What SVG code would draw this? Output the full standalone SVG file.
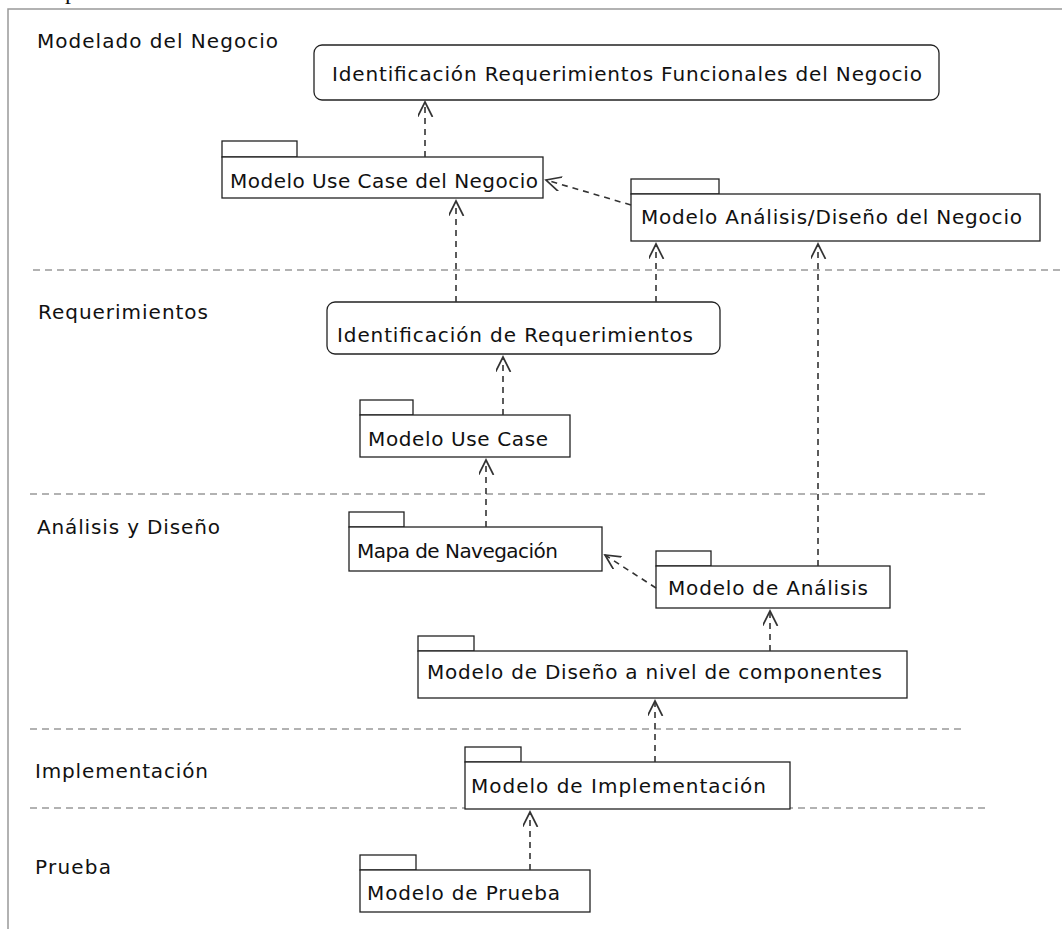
<svg xmlns="http://www.w3.org/2000/svg" width="1062" height="929" viewBox="0 0 1062 929">
<style>
  .frame{fill:none;stroke:#999;stroke-width:1.5}
  .sep{fill:none;stroke:#999;stroke-width:1.5;stroke-dasharray:7 5}
  .box{fill:#fff;stroke:#222;stroke-width:1.3}
  .conn{fill:none;stroke:#333;stroke-width:1.6;stroke-dasharray:6 5;marker-end:url(#arr)}
  .t{font-family:"DejaVu Sans","Liberation Sans",Arial,sans-serif;font-size:20px;fill:#111}
  .lane{font-family:"DejaVu Sans","Liberation Sans",Arial,sans-serif;font-size:20px;fill:#111}
</style>
<defs>
  <marker id="arr" markerUnits="userSpaceOnUse" markerWidth="20" markerHeight="20" refX="15" refY="7.5" orient="auto">
    <path d="M0,0 L15,7.5 L0,15" fill="none" stroke="#333" stroke-width="1.7" stroke-dasharray="none"/>
  </marker>
</defs>
<rect width="1062" height="929" fill="#fff"/>
<text x="65" y="-1" style="font-family:'Liberation Serif',serif;font-size:24px;fill:#111">p</text>
<path class="frame" d="M8,929 L8,9 L1062,9"/>

<g id="separators">
  <line class="sep" x1="33" y1="270" x2="1062" y2="270"/>
  <line class="sep" x1="30" y1="494" x2="990" y2="494"/>
  <line class="sep" x1="30" y1="729" x2="963" y2="729"/>
  <line class="sep" x1="30" y1="808" x2="988" y2="808"/>
</g>

<g id="lanes">
  <text class="lane" x="37" y="48" textLength="241" lengthAdjust="spacing">Modelado del Negocio</text>
  <text class="lane" x="38" y="319" textLength="170" lengthAdjust="spacing">Requerimientos</text>
  <text class="lane" x="37" y="534" textLength="183" lengthAdjust="spacing">Análisis y Diseño</text>
  <text class="lane" x="35" y="778" textLength="173" lengthAdjust="spacing">Implementación</text>
  <text class="lane" x="35" y="874" textLength="76" lengthAdjust="spacing">Prueba</text>
</g>

<g id="n1">
  <rect class="box" x="314" y="45" width="625" height="55" rx="8"/>
  <text class="t" x="332" y="81" textLength="590" lengthAdjust="spacing">Identificación Requerimientos Funcionales del Negocio</text>
</g>
<g id="n2">
  <rect class="box" x="222" y="141" width="75" height="16"/>
  <rect class="box" x="222" y="157" width="321" height="41"/>
  <text class="t" x="230" y="188" textLength="308" lengthAdjust="spacing">Modelo Use Case del Negocio</text>
</g>
<g id="n3">
  <rect class="box" x="631" y="179" width="88" height="15"/>
  <rect class="box" x="631" y="194" width="409" height="47"/>
  <text class="t" x="641" y="224" textLength="381" lengthAdjust="spacing">Modelo Análisis/Diseño del Negocio</text>
</g>
<g id="n4">
  <rect class="box" x="327" y="302" width="393" height="52" rx="8"/>
  <text class="t" x="337" y="342" textLength="356" lengthAdjust="spacing">Identificación de Requerimientos</text>
</g>
<g id="n5">
  <rect class="box" x="360" y="400" width="53" height="15"/>
  <rect class="box" x="360" y="415" width="210" height="42"/>
  <text class="t" x="368" y="446" textLength="180" lengthAdjust="spacing">Modelo Use Case</text>
</g>
<g id="n6">
  <rect class="box" x="349" y="512" width="55" height="15"/>
  <rect class="box" x="349" y="527" width="253" height="44"/>
  <text class="t" x="357" y="558" textLength="201" lengthAdjust="spacing">Mapa de Navegación</text>
</g>
<g id="n7">
  <rect class="box" x="656" y="551" width="55" height="15"/>
  <rect class="box" x="656" y="566" width="234" height="42"/>
  <text class="t" x="668" y="595" textLength="200" lengthAdjust="spacing">Modelo de Análisis</text>
</g>
<g id="n8">
  <rect class="box" x="418" y="636" width="56" height="15"/>
  <rect class="box" x="418" y="651" width="489" height="47"/>
  <text class="t" x="427" y="679" textLength="455" lengthAdjust="spacing">Modelo de Diseño a nivel de componentes</text>
</g>
<g id="n9">
  <rect class="box" x="465" y="747" width="56" height="15"/>
  <rect class="box" x="465" y="762" width="325" height="47"/>
  <text class="t" x="471" y="793" textLength="295" lengthAdjust="spacing">Modelo de Implementación</text>
</g>
<g id="n10">
  <rect class="box" x="360" y="855" width="56" height="15"/>
  <rect class="box" x="360" y="870" width="230" height="42"/>
  <text class="t" x="367" y="900" textLength="193" lengthAdjust="spacing">Modelo de Prueba</text>
</g>

<g id="connectors">
  <line class="conn" x1="425" y1="157" x2="425" y2="102"/>
  <line class="conn" x1="631" y1="205" x2="546" y2="180"/>
  <line class="conn" x1="456" y1="302" x2="456" y2="201"/>
  <line class="conn" x1="656" y1="302" x2="656" y2="244"/>
  <line class="conn" x1="818" y1="566" x2="818" y2="244"/>
  <line class="conn" x1="503" y1="415" x2="503" y2="357"/>
  <line class="conn" x1="486" y1="527" x2="486" y2="460"/>
  <line class="conn" x1="656" y1="588" x2="605" y2="555"/>
  <line class="conn" x1="770" y1="651" x2="770" y2="611"/>
  <line class="conn" x1="655" y1="762" x2="655" y2="701"/>
  <line class="conn" x1="530" y1="870" x2="530" y2="812"/>
</g>
</svg>
